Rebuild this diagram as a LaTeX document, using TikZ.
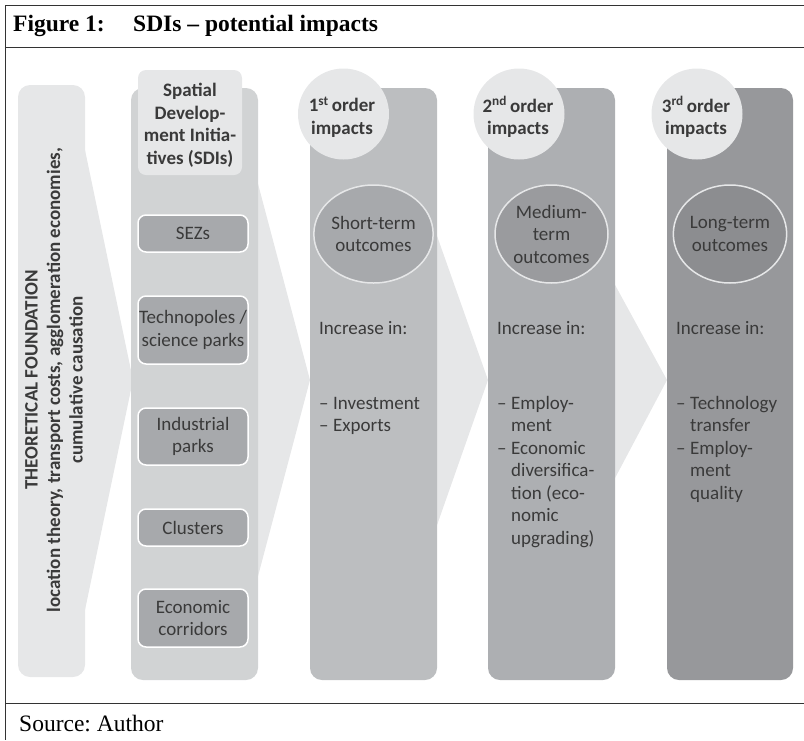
\documentclass[tikz,border=0pt]{standalone}
\usepackage{fontspec}
\setmainfont{Carlito}
\newfontfamily\captionserif{Liberation Serif}
\usetikzlibrary{shapes.geometric}
\frenchspacing

\definecolor{framegray}{HTML}{333333}
\definecolor{palegray}{HTML}{E6E7E8}
\definecolor{sdigray}{HTML}{D1D3D4}
\definecolor{itemgray}{HTML}{A7A9AC}
\definecolor{firstgray}{HTML}{BCBEC0}
\definecolor{secondgray}{HTML}{ADAFB2}
\definecolor{thirdgray}{HTML}{97989B}
\definecolor{firstoval}{HTML}{A7A9AC}
\definecolor{secondoval}{HTML}{9A9B9E}
\definecolor{thirdoval}{HTML}{8C8D90}
\definecolor{inkgray}{HTML}{3A3A3A}

\newcommand{\bodyfont}{\fontsize{19}{22.5}\selectfont}
\newcommand{\captionfont}{\captionserif\fontsize{23.5}{26}\selectfont}
\newcommand{\dashmark}{\makebox[14pt][l]{–}}
\newcommand{\hangmark}{\hspace*{14pt}}

\tikzset{
  column/.style={rounded corners=12pt, minimum width=127pt, minimum height=592pt, inner sep=0pt},
  itembox/.style={draw=white, line width=1.5pt, fill=itemgray, rounded corners=8pt, minimum width=110pt, align=center, inner sep=0pt},
  orderdisc/.style={circle, fill=palegray, minimum size=91pt, inner sep=0pt},
  disctext/.style={align=center, inner sep=0pt, font=\bodyfont\bfseries},
  outcome/.style={ellipse, draw=palegray, line width=1.5pt, minimum width=113pt, minimum height=98pt, inner sep=0pt, align=center},
  listtext/.style={anchor=base west, inner sep=0pt},
  chevron/.style={fill=palegray},
  framerule/.style={framegray, line width=1pt},
  captiontext/.style={anchor=base west, inner sep=0pt, text=black},
}

\begin{document}
\begin{tikzpicture}[x=1pt, y=-1pt, font=\bodyfont, text=inkgray]
\useasboundingbox (0,0) rectangle (804,740);
% frame and caption
\draw[framerule] (804,5) -- (5,5) -- (5,740);
\draw[framerule] (5,47) -- (804,47);
\draw[framerule] (5,703) -- (804,703);
\node[captiontext, font=\captionfont\bfseries] (figno) at (13,31) {Figure 1:};
\node[captiontext, font=\captionfont\bfseries] (figtitle) at (133,31) {SDIs – potential impacts};
\node[captiontext, font=\captionfont] (source) at (19,731) {Source: Author};

% chevrons
\fill[chevron] (85,150) -- (133,380) -- (85,610) -- cycle;
\fill[chevron] (257,180) -- (310,380) -- (257,580) -- cycle;
\fill[chevron] (436,233) -- (488,380) -- (436,528) -- cycle;
\fill[chevron] (614,283) -- (667,380) -- (614,480) -- cycle;

% theory strip
\node[column, fill=palegray, minimum width=67pt] (theory) at (51.5,381) {};
\node[rotate=90, align=center, font=\bodyfont\bfseries] (theorytext) at (54,380)
  {THEORETICAL FOUNDATION\\location theory, transport costs, agglomeration economies,\\cumulative causation};

% SDI column
\node[column, fill=sdigray] (sdi) at (194.5,384) {};
\node[itembox, draw=none, fill=palegray, minimum width=104pt, minimum height=105pt] (sdihead) at (190,122.5) {};
\node[disctext] (sdiheadtext) at (190,125.5) {Spatial\\Develop-\\ment Initia-\\tives (SDIs)};
\node[itembox, minimum height=37pt] (sez) at (193,233.5) {SEZs};
\node[itembox, minimum height=68pt] (techno) at (193,330) {Technopoles /\\science parks};
\node[itembox, minimum height=57pt] (industrial) at (193,436.5) {Industrial\\parks};
\node[itembox, minimum height=37pt] (clusters) at (193,527.5) {Clusters};
\node[itembox, minimum height=58pt] (corridors) at (193,618) {Economic\\corridors};

% impact columns
\node[column, fill=firstgray] (first) at (373.5,384) {};
\node[column, fill=secondgray] (second) at (551.5,384) {};
\node[column, fill=thirdgray, minimum width=126pt] (third) at (730,384) {};

\node[orderdisc] (firstdisc) at (343.5,114) {};
\node[orderdisc] (seconddisc) at (519,114) {};
\node[orderdisc] (thirddisc) at (697,114) {};
\node[disctext] (firstdisctext) at (342,117) {1\textsuperscript{st}\,order\\impacts};
\node[disctext] (seconddisctext) at (518,117) {2\textsuperscript{nd}\,order\\impacts};
\node[disctext] (thirddisctext) at (696,117) {3\textsuperscript{rd}\,order\\impacts};

\node[outcome, fill=firstoval] (firstoutcome) at (373.5,234) {Short-term\\outcomes};
\node[outcome, fill=secondoval] (secondoutcome) at (551.5,234) {Medium-\\term\\outcomes};
\node[outcome, fill=thirdoval] (thirdoutcome) at (730,234) {Long-term\\outcomes};

\node[listtext] (firstinc) at (319,334) {Increase in:};
\node[listtext] (secondinc) at (497,334) {Increase in:};
\node[listtext] (thirdinc) at (676,334) {Increase in:};

\node[listtext] (firstlist) at (319,409) {\begin{tabular}[t]{@{}l@{}}
  \dashmark Investment\\
  \dashmark Exports
\end{tabular}};
\node[listtext] (secondlist) at (497,409) {\begin{tabular}[t]{@{}l@{}}
  \dashmark Employ-\\
  \hangmark ment\\
  \dashmark Economic\\
  \hangmark diversifica-\\
  \hangmark tion (eco-\\
  \hangmark nomic\\
  \hangmark upgrading)
\end{tabular}};
\node[listtext] (thirdlist) at (676,409) {\begin{tabular}[t]{@{}l@{}}
  \dashmark Technology\\
  \hangmark transfer\\
  \dashmark Employ-\\
  \hangmark ment\\
  \hangmark quality
\end{tabular}};
\end{tikzpicture}
\end{document}
